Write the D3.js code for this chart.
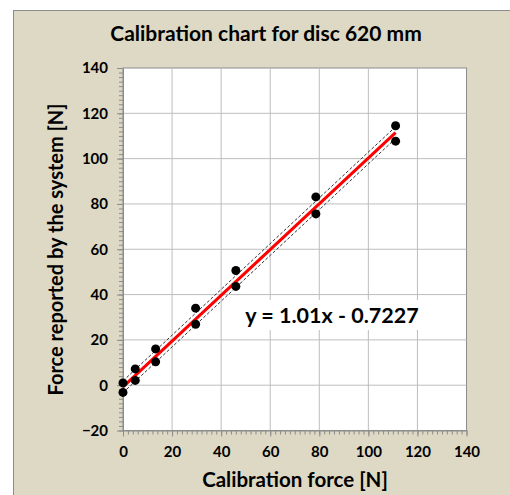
<!DOCTYPE html>
<html lang="en">
<head>
<meta charset="UTF-8">
<title>Calibration chart for disc 620 mm</title>
<script src="https://d3js.org/d3.v7.min.js"></script>
<style>
    body { margin: 0; background: #fff; }
    svg { display: block; }
    text { font-family: Lato, "Open Sans", sans-serif; font-weight: bold; fill: #000; }
</style>
</head>
<body>
<svg id="chart" width="510" height="495"></svg>
<script>
// calibration force applied, and the two readings reported for each
const calForce = [0, 5, 13.3, 29.6, 46, 78.6, 111.1];
const readHigh = [1.0, 7.2, 16.0, 34.0, 50.6, 83.1, 114.5];
const readLow = [-3.2, 2.1, 10.3, 26.9, 43.6, 75.6, 107.7];
const slope = 1.01, intercept = -0.7227;
const bandHalf = 2.6; // dashed band around fit
const xTicks = [0, 20, 40, 60, 80, 100, 120, 140];
const yTicks = [-20, 0, 20, 40, 60, 80, 100, 120, 140];

const svg = d3.select("#chart");
const margin = { left: 123, top: 68, right: 466.5, bottom: 430.5 };

// outer chart area
svg.append("rect")
    .attr("x", 13.5).attr("y", 10.5)
    .attr("width", 520).attr("height", 520)
    .attr("fill", "#ddd9c4").attr("stroke", "#8c8c8c").attr("stroke-width", 1);

const x = d3.scaleLinear().domain([0, 140]).range([margin.left, margin.right]);
const y = d3.scaleLinear().domain([-20, 140]).range([margin.bottom, margin.top]);

// plot area
svg.append("rect")
    .attr("x", x(0)).attr("y", y(140))
    .attr("width", x(140) - x(0)).attr("height", y(-20) - y(140))
    .attr("fill", "#fff").attr("stroke", "#8c8c8c");

// grid
svg.append("g").selectAll("line").data(xTicks.slice(1, -1)).join("line")
    .attr("x1", d => x(d)).attr("x2", d => x(d))
    .attr("y1", y(-20)).attr("y2", y(140))
    .attr("stroke", "#bdbdbd").attr("stroke-width", 1);
svg.append("g").selectAll("line").data(yTicks.slice(1, -1)).join("line")
    .attr("y1", d => y(d)).attr("y2", d => y(d))
    .attr("x1", x(0)).attr("x2", x(140))
    .attr("stroke", "#bdbdbd").attr("stroke-width", 1);

// minor ticks every 2 units
const xAxisMinor = d3.axisBottom(x).tickValues(d3.range(0, 141, 2)).tickSize(4).tickFormat("");
const yAxisMinor = d3.axisLeft(y).tickValues(d3.range(-20, 141, 2)).tickSize(4).tickFormat("");
svg.append("g").attr("transform", `translate(0,${y(-20)})`).call(xAxisMinor)
    .call(g => g.select(".domain").remove())
    .selectAll("line").attr("stroke", "#8c8c8c");
svg.append("g").attr("transform", `translate(${x(0)},0)`).call(yAxisMinor)
    .call(g => g.select(".domain").remove())
    .selectAll("line").attr("stroke", "#8c8c8c");

// major axes
const gx = svg.append("g").attr("transform", `translate(0,${y(-20)})`)
    .call(d3.axisBottom(x).tickValues(xTicks).tickSize(6).tickSizeOuter(0).tickPadding(10));
const gy = svg.append("g").attr("transform", `translate(${x(0)},0)`)
    .call(d3.axisLeft(y).tickValues(yTicks).tickSize(6).tickSizeOuter(0).tickPadding(9));
[gx, gy].forEach(g => {
    g.select(".domain").attr("stroke", "#8c8c8c");
    g.selectAll(".tick line").attr("stroke", "#8c8c8c");
    g.selectAll(".tick text")
        .attr("font-family", "Lato, sans-serif").attr("font-weight", "bold")
        .attr("font-size", 15);
});

// fit line and band
const xMin = d3.min(calForce), xMax = d3.max(calForce);
const fit = v => slope * v + intercept;
const lineGen = d3.line().x(d => x(d[0])).y(d => y(d[1]));
[bandHalf, -bandHalf].forEach(off => {
    svg.append("path")
        .attr("d", lineGen([[xMin, fit(xMin) + off], [xMax, fit(xMax) + off]]))
        .attr("fill", "none").attr("stroke", "#333").attr("stroke-width", 1)
        .attr("stroke-dasharray", "3,2");
});
svg.append("path")
    .attr("d", lineGen([[xMin, fit(xMin)], [xMax, fit(xMax)]]))
    .attr("fill", "none").attr("stroke", "#ff0000").attr("stroke-width", 3);

// points
const pts = calForce.map((v, i) => [v, readHigh[i]]).concat(calForce.map((v, i) => [v, readLow[i]]));
svg.append("g").selectAll("circle").data(pts).join("circle")
    .attr("cx", d => x(d[0])).attr("cy", d => y(d[1])).attr("r", 4.5)
    .attr("fill", "#000");

// equation label with white box
const eq = svg.append("g");
const eqText = eq.append("text")
    .attr("x", 332).attr("y", 323)
    .attr("text-anchor", "middle").attr("font-size", 21.5)
    .text(`y = ${slope}x - ${Math.abs(intercept)}`);
const bb = eqText.node().getBBox();
eq.insert("rect", "text")
    .attr("x", bb.x - 4).attr("y", bb.y - 2)
    .attr("width", bb.width + 8).attr("height", bb.height + 4)
    .attr("fill", "#fff");

// titles
svg.append("text").attr("x", 266).attr("y", 41)
    .attr("text-anchor", "middle").attr("font-size", 21)
    .text("Calibration chart for disc 620 mm");
svg.append("text").attr("x", 295).attr("y", 487)
    .attr("text-anchor", "middle").attr("font-size", 20.5)
    .text("Calibration force [N]");
svg.append("text")
    .attr("transform", "translate(63,249.5) rotate(-90)")
    .attr("text-anchor", "middle").attr("font-size", 20)
    .text("Force reported by the system [N]");
</script>
</body>
</html>
